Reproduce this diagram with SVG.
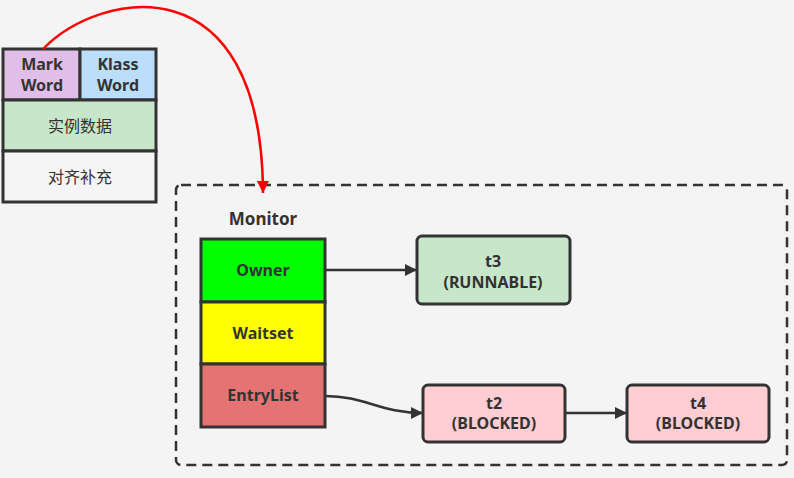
<svg xmlns="http://www.w3.org/2000/svg" width="794" height="478" viewBox="0 0 794 478">
<style>
.box{stroke:#333;stroke-width:3}
.t{font-family:"Noto Sans","Noto Sans CJK SC",sans-serif;font-weight:bold;font-size:16px;fill:#333;text-anchor:middle}
.cjk{font-family:"Noto Sans CJK SC",sans-serif;font-weight:normal;font-size:16px;fill:#333;text-anchor:middle}
.c{fill:none;stroke:#333;stroke-width:2.5}
</style>
<defs>
<marker id="ah" viewBox="0 0 10 10" refX="10" refY="5" markerWidth="14" markerHeight="12" markerUnits="userSpaceOnUse" orient="auto">
<path d="M0,0 L10,5 L0,10 z" fill="#333"/>
</marker>
<marker id="ar" viewBox="0 0 10 10" refX="10" refY="5" markerWidth="16" markerHeight="12" markerUnits="userSpaceOnUse" orient="auto">
<path d="M0,0 L10,5 L0,10 z" fill="#f00"/>
</marker>
</defs>
<rect width="794" height="478" fill="#f4f4f4"/>
<g id="container">
<rect x="176" y="185" width="611" height="280" rx="5" fill="none" stroke="#333" stroke-width="2.5" stroke-dasharray="10,6"/>
<text class="t" x="263" y="225" style="font-size:17px">Monitor</text>
</g>
<g id="header">
<rect class="box" x="3" y="49" width="77" height="51" fill="#e1bee7"/>
<rect class="box" x="80" y="49" width="76" height="51" fill="#bbdefb"/>
<rect class="box" x="3" y="100" width="153" height="51" fill="#c8e6c9"/>
<rect class="box" x="3" y="151" width="153" height="51" fill="#f5f5f5"/>
<text class="t" x="42" y="70">Mark</text>
<text class="t" x="42" y="91">Word</text>
<text class="t" x="118" y="70">Klass</text>
<text class="t" x="118" y="91">Word</text>
<text class="cjk" x="80" y="132">实例数据</text>
<text class="cjk" x="80" y="183">对齐补充</text>
</g>
<g id="owner">
<rect class="box" x="201" y="239" width="124" height="63" fill="#00ff00"/>
<text class="t" x="263" y="276">Owner</text>
</g>
<g id="waitset">
<rect class="box" x="201" y="302" width="124" height="62" fill="#ffff00"/>
<text class="t" x="263" y="339">Waitset</text>
</g>
<g id="entrylist">
<rect class="box" x="201" y="364" width="124" height="63" fill="#e57373"/>
<text class="t" x="263" y="401">EntryList</text>
</g>
<g id="t3">
<rect class="box" x="417" y="236" width="153" height="68" rx="5" fill="#c8e6c9"/>
<text class="t" x="493" y="267">t3</text>
<text class="t" x="493" y="288">(RUNNABLE)</text>
</g>
<g id="t2">
<rect class="box" x="423" y="385" width="142" height="57" rx="5" fill="#ffcdd2"/>
<text class="t" x="494" y="409">t2</text>
<text class="t" x="494" y="429">(BLOCKED)</text>
</g>
<g id="t4">
<rect class="box" x="627" y="385" width="142" height="57" rx="5" fill="#ffcdd2"/>
<text class="t" x="698" y="409">t4</text>
<text class="t" x="698" y="429">(BLOCKED)</text>
</g>
<g id="connectors">
<path d="M43,49 C100,-10 262,-40 263,193" fill="none" stroke="#f00" stroke-width="2.5" marker-end="url(#ar)"/>
<path class="c" d="M325,270 L417,270" marker-end="url(#ah)"/>
<path class="c" d="M325,396 C365,396 380,413 423,413" marker-end="url(#ah)"/>
<path class="c" d="M565,413 L627,413" marker-end="url(#ah)"/>
</g>
</svg>
